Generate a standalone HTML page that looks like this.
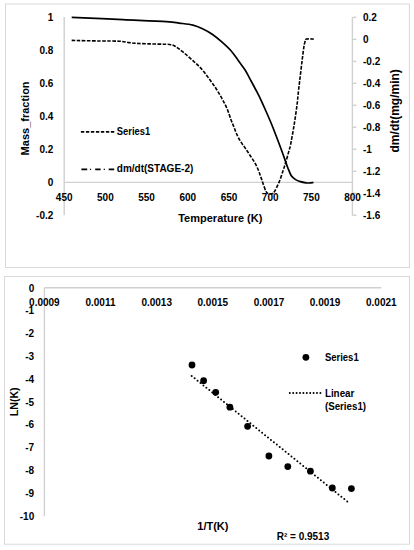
<!DOCTYPE html><html><head><meta charset="utf-8"><style>html,body{margin:0;padding:0;background:#fff;width:414px;height:550px;overflow:hidden}svg{display:block}text{font-family:"Liberation Sans",sans-serif;font-weight:bold;fill:#000}</style></head><body>
<svg width="414" height="550" viewBox="0 0 414 550">
<rect x="5.5" y="4" width="403.9" height="263.5" fill="#fff" stroke="#d9d9d9" stroke-width="1"/>
<line x1="64.2" y1="17" x2="64.2" y2="215.2" stroke="#d0d0d0" stroke-width="1.4"/>
<line x1="64.2" y1="182.4" x2="352.4" y2="182.4" stroke="#d0d0d0" stroke-width="1.4"/>
<line x1="352.4" y1="17.4" x2="352.4" y2="215.2" stroke="#d0d0d0" stroke-width="1.4"/>
<line x1="352.4" y1="17.4" x2="356.4" y2="17.4" stroke="#d0d0d0" stroke-width="1.4"/>
<line x1="352.4" y1="39.4" x2="356.4" y2="39.4" stroke="#d0d0d0" stroke-width="1.4"/>
<line x1="352.4" y1="61.4" x2="356.4" y2="61.4" stroke="#d0d0d0" stroke-width="1.4"/>
<line x1="352.4" y1="83.3" x2="356.4" y2="83.3" stroke="#d0d0d0" stroke-width="1.4"/>
<line x1="352.4" y1="105.3" x2="356.4" y2="105.3" stroke="#d0d0d0" stroke-width="1.4"/>
<line x1="352.4" y1="127.3" x2="356.4" y2="127.3" stroke="#d0d0d0" stroke-width="1.4"/>
<line x1="352.4" y1="149.3" x2="356.4" y2="149.3" stroke="#d0d0d0" stroke-width="1.4"/>
<line x1="352.4" y1="171.3" x2="356.4" y2="171.3" stroke="#d0d0d0" stroke-width="1.4"/>
<line x1="352.4" y1="193.2" x2="356.4" y2="193.2" stroke="#d0d0d0" stroke-width="1.4"/>
<line x1="352.4" y1="215.2" x2="356.4" y2="215.2" stroke="#d0d0d0" stroke-width="1.4"/>
<text x="53.3" y="21.0" font-size="10" text-anchor="end">1</text>
<text x="53.3" y="54.0" font-size="10" text-anchor="end">0.8</text>
<text x="53.3" y="86.9" font-size="10" text-anchor="end">0.6</text>
<text x="53.3" y="119.9" font-size="10" text-anchor="end">0.4</text>
<text x="53.3" y="152.9" font-size="10" text-anchor="end">0.2</text>
<text x="53.3" y="185.8" font-size="10" text-anchor="end">0</text>
<text x="53.3" y="218.8" font-size="10" text-anchor="end">-0.2</text>
<text x="64.2" y="200.8" font-size="10" text-anchor="middle">450</text>
<text x="105.4" y="200.8" font-size="10" text-anchor="middle">500</text>
<text x="146.6" y="200.8" font-size="10" text-anchor="middle">550</text>
<text x="187.8" y="200.8" font-size="10" text-anchor="middle">600</text>
<text x="229.0" y="200.8" font-size="10" text-anchor="middle">650</text>
<text x="270.2" y="200.8" font-size="10" text-anchor="middle">700</text>
<text x="311.4" y="200.8" font-size="10" text-anchor="middle">750</text>
<text x="352.6" y="200.8" font-size="10" text-anchor="middle">800</text>
<text x="363" y="21.0" font-size="10">0.2</text>
<text x="363" y="43.0" font-size="10">0</text>
<text x="363" y="65.0" font-size="10">-0.2</text>
<text x="363" y="86.9" font-size="10">-0.4</text>
<text x="363" y="108.9" font-size="10">-0.6</text>
<text x="363" y="130.9" font-size="10">-0.8</text>
<text x="363" y="152.9" font-size="10">-1</text>
<text x="363" y="174.9" font-size="10">-1.2</text>
<text x="363" y="196.8" font-size="10">-1.4</text>
<text x="363" y="218.8" font-size="10">-1.6</text>
<text x="220.3" y="221.8" font-size="11" text-anchor="middle">Temperature (K)</text>
<text transform="translate(28.8,118.4) rotate(-90)" font-size="11" text-anchor="middle">Mass_fraction</text>
<text transform="translate(399,110.8) rotate(-90)" font-size="12" text-anchor="middle">dm/dt(mg/min)</text>
<line x1="80.9" y1="131.9" x2="114.3" y2="131.9" stroke="#000" stroke-width="1.9" stroke-dasharray="3.35 1.65"/>
<text x="116.8" y="135.1" font-size="10" textLength="33.4" lengthAdjust="spacingAndGlyphs">Series1</text>
<path d="M81.4,169.4 H87.2 M95.2,169.4 H100.6 M108.7,169.4 H114.2" stroke="#000" stroke-width="1.6"/><path d="M89.9,169.4 H91.1 M103.7,169.4 H104.9" stroke="#000" stroke-width="1.3"/>
<text x="116.8" y="172.1" font-size="10">dm/dt(STAGE-2)</text>
<path d="M71.70,17.30 C80.25,17.68 107.22,18.88 123.00,19.60 C138.78,20.32 157.02,21.02 166.40,21.60 C175.78,22.18 174.88,22.52 179.30,23.10 C183.72,23.68 189.03,24.17 192.90,25.10 C196.77,26.03 199.28,27.18 202.50,28.70 C205.72,30.22 208.98,32.00 212.20,34.20 C215.42,36.40 218.63,39.10 221.80,41.90 C224.97,44.70 228.37,47.78 231.20,51.00 C234.03,54.22 236.48,58.03 238.80,61.20 C241.12,64.37 243.20,66.98 245.10,70.00 C247.00,73.02 248.40,75.97 250.20,79.30 C252.00,82.63 254.22,86.78 255.90,90.00 C257.58,93.22 258.78,95.43 260.30,98.60 C261.82,101.77 263.07,104.60 265.00,109.00 C266.93,113.40 269.47,119.00 271.90,125.00 C274.33,131.00 277.28,138.82 279.60,145.00 C281.92,151.18 284.42,158.27 285.80,162.10 C287.18,165.93 286.98,165.73 287.90,168.00 C288.82,170.27 290.02,173.77 291.30,175.70 C292.58,177.63 294.07,178.62 295.60,179.60 C297.13,180.58 298.77,181.07 300.50,181.60 C302.23,182.13 304.58,182.57 306.00,182.80 C307.42,183.03 307.75,183.05 309.00,183.00 C310.25,182.95 312.75,182.58 313.50,182.50" fill="none" stroke="#000" stroke-width="1.7"/>
<path d="M71.70,40.40 C76.42,40.50 92.07,40.87 100.00,41.00 C107.93,41.13 114.47,40.93 119.30,41.20 C124.13,41.47 125.78,42.22 129.00,42.60 C132.22,42.98 133.77,43.25 138.60,43.50 C143.43,43.75 152.83,43.93 158.00,44.10 C163.17,44.27 166.68,44.10 169.60,44.50 C172.52,44.90 173.23,45.22 175.50,46.50 C177.77,47.78 180.30,49.83 183.20,52.20 C186.10,54.57 189.83,57.90 192.90,60.70 C195.97,63.50 198.83,65.90 201.60,69.00 C204.37,72.10 207.05,75.97 209.50,79.30 C211.95,82.63 214.22,85.78 216.30,89.00 C218.38,92.22 220.23,95.38 222.00,98.60 C223.77,101.82 225.38,104.73 226.90,108.30 C228.42,111.87 229.92,116.85 231.10,120.00 C232.28,123.15 233.03,124.78 234.00,127.20 C234.97,129.62 235.78,132.08 236.90,134.50 C238.02,136.92 239.27,139.37 240.70,141.70 C242.13,144.03 243.98,146.28 245.50,148.50 C247.02,150.72 248.30,152.72 249.80,155.00 C251.30,157.28 253.12,159.78 254.50,162.20 C255.88,164.62 257.07,167.08 258.10,169.50 C259.13,171.92 259.93,174.53 260.70,176.70 C261.47,178.87 261.82,180.03 262.70,182.50 C263.58,184.97 265.03,189.65 266.00,191.50 C266.97,193.35 267.37,193.25 268.50,193.60 C269.63,193.95 271.85,193.87 272.80,193.60 C273.75,193.33 273.17,193.87 274.20,192.00 C275.23,190.13 277.48,186.07 279.00,182.40 C280.52,178.73 282.17,173.38 283.30,170.00 C284.43,166.62 284.82,165.43 285.80,162.10 C286.78,158.77 288.42,152.85 289.20,150.00 C289.98,147.15 289.68,149.17 290.50,145.00 C291.32,140.83 293.02,131.67 294.10,125.00 C295.18,118.33 296.25,110.83 297.00,105.00 C297.75,99.17 297.57,98.87 298.60,90.00 C299.63,81.13 302.17,59.70 303.20,51.80 C304.23,43.90 304.27,44.72 304.80,42.60 C305.33,40.48 304.92,39.68 306.40,39.10 C307.88,38.52 312.48,39.10 313.70,39.10" fill="none" stroke="#000" stroke-width="1.6" stroke-dasharray="3.6 1.45"/>
<rect x="4.5" y="276.5" width="405" height="267.7" fill="#fff" stroke="#d9d9d9" stroke-width="1"/>
<line x1="44.4" y1="288" x2="44.4" y2="516" stroke="#d0d0d0" stroke-width="1.4"/>
<line x1="44.4" y1="287.7" x2="381.3" y2="287.7" stroke="#d0d0d0" stroke-width="1.4"/>
<text x="34.2" y="291.6" font-size="10" text-anchor="end">0</text>
<text x="34.2" y="314.4" font-size="10" text-anchor="end">-1</text>
<text x="34.2" y="337.2" font-size="10" text-anchor="end">-2</text>
<text x="34.2" y="360.0" font-size="10" text-anchor="end">-3</text>
<text x="34.2" y="382.8" font-size="10" text-anchor="end">-4</text>
<text x="34.2" y="405.6" font-size="10" text-anchor="end">-5</text>
<text x="34.2" y="428.4" font-size="10" text-anchor="end">-6</text>
<text x="34.2" y="451.2" font-size="10" text-anchor="end">-7</text>
<text x="34.2" y="474.0" font-size="10" text-anchor="end">-8</text>
<text x="34.2" y="496.8" font-size="10" text-anchor="end">-9</text>
<text x="34.2" y="519.6" font-size="10" text-anchor="end">-10</text>
<text x="44.4" y="306.3" font-size="10" text-anchor="middle">0.0009</text>
<text x="100.5" y="306.3" font-size="10" text-anchor="middle">0.0011</text>
<text x="156.7" y="306.3" font-size="10" text-anchor="middle">0.0013</text>
<text x="212.8" y="306.3" font-size="10" text-anchor="middle">0.0015</text>
<text x="269.0" y="306.3" font-size="10" text-anchor="middle">0.0017</text>
<text x="325.1" y="306.3" font-size="10" text-anchor="middle">0.0019</text>
<text x="381.3" y="306.3" font-size="10" text-anchor="middle">0.0021</text>
<line x1="191.7" y1="375.9" x2="350.1" y2="503.8" stroke="#000" stroke-width="2" stroke-dasharray="0 3.772" stroke-linecap="round"/>
<circle cx="192" cy="365" r="3.4" fill="#000"/>
<circle cx="203.6" cy="380.7" r="3.4" fill="#000"/>
<circle cx="215.7" cy="392.3" r="3.4" fill="#000"/>
<circle cx="229.9" cy="407.2" r="3.4" fill="#000"/>
<circle cx="247.6" cy="426.3" r="3.4" fill="#000"/>
<circle cx="268.9" cy="456" r="3.4" fill="#000"/>
<circle cx="287.8" cy="466.6" r="3.4" fill="#000"/>
<circle cx="310.4" cy="471.2" r="3.4" fill="#000"/>
<circle cx="332.3" cy="488" r="3.4" fill="#000"/>
<circle cx="351.4" cy="488.6" r="3.4" fill="#000"/>
<circle cx="305.9" cy="357.3" r="3.4" fill="#000"/>
<text x="324.9" y="360.9" font-size="10" textLength="33.8" lengthAdjust="spacingAndGlyphs">Series1</text>
<line x1="289.8" y1="393" x2="321" y2="393" stroke="#000" stroke-width="2" stroke-dasharray="0 3.4" stroke-linecap="round"/>
<text x="324.9" y="396.7" font-size="10" textLength="29.5" lengthAdjust="spacingAndGlyphs">Linear</text>
<text x="324.9" y="409.5" font-size="10" textLength="41.2" lengthAdjust="spacingAndGlyphs">(Series1)</text>
<text x="212.9" y="530.1" font-size="11" text-anchor="middle">1/T(K)</text>
<text transform="translate(18.1,401.8) rotate(-90)" font-size="10.6" text-anchor="middle">LN(K)</text>
<text x="276.7" y="539.6" font-size="10">R² = 0.9513</text>
</svg></body></html>
